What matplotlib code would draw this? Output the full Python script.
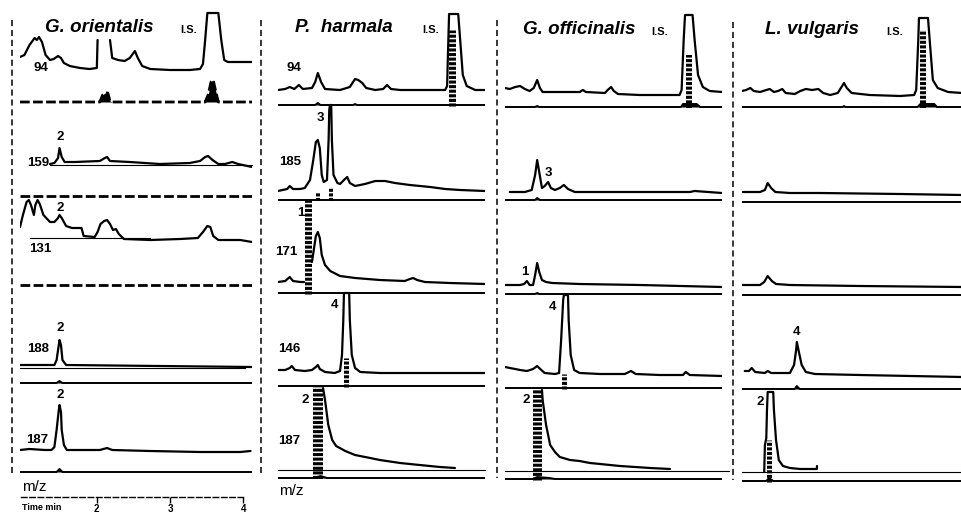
import matplotlib
matplotlib.use('Agg')
import matplotlib.pyplot as plt
from matplotlib.lines import Line2D
import numpy as np

plt.rcParams['font.family'] = ['Liberation Sans', 'DejaVu Sans']

# ------------------------------------------------------------------ data
SPECIES = ['G. orientalis', 'P.  harmala', 'G. officinalis', 'L. vulgaris']
MZ_COL1 = ['94', '159', '131', '188', '187']
MZ_COL2 = ['94', '185', '171', '146', '187']
TIME_TICKS = [2, 3, 4]
T_START, T_END = 0.95, 4.12

# traces: (retention time [min], relative intensity); None = off-scale gap
GO_94 = [(0.95,13),(1.01,15),(1.08,25),(1.15,32),(1.18,30),(1.21,33),(1.25,28),(1.30,15),(1.36,10),(1.41,11),
         (1.47,14),(1.51,12),(1.55,7),(1.63,4),(1.77,2),(1.90,1),(2.00,2),(2.01,30),None,(2.18,30),(2.21,12),
         (2.29,10),(2.38,9),(2.45,12),(2.52,19),(2.56,12),(2.62,4),(2.73,1),(3.00,0),(3.27,0),(3.41,1),(3.45,6),
         (3.48,30),(3.51,57),(3.66,57),(3.70,30),(3.74,10),(3.79,8),(4.12,8)]
GO_94_SIM = [(0.95,0),(2.04,0),(2.08,7),(2.11,9),(2.15,9),(2.18,1),(2.21,0),(3.48,0),(3.52,7),(3.56,20),
             (3.59,22),(3.62,12),(3.66,0),(4.12,0)]
GO_159 = [(1.36,1),(1.42,2),(1.47,7),(1.49,17),(1.52,8),(1.56,3),(1.70,3),(2.04,4),(2.11,7),(2.14,8),(2.18,4),
          (2.45,3),(2.86,1),(3.27,2),(3.41,4),(3.48,8),(3.52,9),(3.58,5),(3.66,1),(3.75,1),(3.85,3),(3.93,1),(4.12,-2)]
GO_159_SIM = [(0.95,0),(4.12,0)]
GO_131 = [(0.95,13),(0.99,25),(1.04,38),(1.07,40),(1.10,35),(1.14,25),(1.16,35),(1.19,40),(1.22,36),(1.27,25),
          (1.36,18),(1.42,18),(1.47,22),(1.49,25),(1.52,22),(1.58,14),(1.66,12),(1.79,12),(1.82,4),(1.97,3),
          (2.01,8),(2.05,16),(2.10,19),(2.14,20),(2.18,16),(2.22,10),(2.26,11),(2.30,6),(2.37,1),(2.73,0),
          (3.14,1),(3.38,2),(3.45,8),(3.51,14),(3.55,13),(3.59,4),(3.66,0),(3.96,0),(4.12,-2)]
GO_131_SIM = [(0.95,0),(4.12,0)]
GO_188 = [(0.95,0),(1.42,0),(1.45,5),(1.48,20),(1.49,25),(1.51,20),(1.53,5),(1.58,0),(4.12,-2)]
GO_188_SIM = [(0.95,0),(1.45,0),(1.49,2),(1.53,0),(4.12,0)]
GO_187 = [(0.95,0),(1.08,1),(1.29,0),(1.38,0),(1.42,3),(1.45,20),(1.48,40),(1.49,45),(1.51,38),(1.52,20),
          (1.55,5),(1.59,0),(1.77,0),(2.04,0),(2.14,2),(2.21,0),(2.73,-1),(3.41,-2),(3.96,-2),(4.10,-1)]
GO_187_SIM = [(0.95,0),(1.45,0),(1.49,3),(1.53,0),(4.12,0)]

PH_94 = [(0.95,0),(1.06,1),(1.13,3),(1.20,1),(1.27,5),(1.33,1),(1.47,2),(1.52,8),(1.56,17),(1.61,8),(1.67,1),
         (1.90,0),(2.05,3),(2.13,11),(2.18,10),(2.24,7),(2.30,2),(2.44,0),(2.56,1),(2.62,5),(2.68,1),(2.82,0),
         (3.51,0),(3.54,4),(3.55,30),(3.57,76),(3.71,76),(3.74,50),(3.78,15),(3.84,4),(3.97,0),(4.12,0)]
PH_94_SIM = [(0.95,0),(1.52,0),(1.56,2),(1.60,0),(2.10,0),(2.13,1),(2.16,0),(4.12,0)]
PH_185 = [(0.95,-1),(1.09,1),(1.13,4),(1.18,1),(1.29,1),(1.36,2),(1.44,10),(1.49,30),(1.53,48),(1.56,50),
          (1.59,42),(1.62,15),(1.65,8),(1.70,10),(1.725,50),(1.735,80),(1.745,85),(1.765,85),(1.775,50),
          (1.80,15),(1.86,7),(1.90,6),(1.96,10),(2.01,13),(2.05,7),(2.13,4),(2.28,6),(2.44,9),(2.59,9),(2.74,7),
          (2.97,5),(3.28,3),(3.51,1),(3.74,0),(4.12,-1)]
PH_185_SIM = [(0.95,0),(4.12,0)]
PH_171 = [(0.95,2),(1.06,3),(1.13,7),(1.18,3),(1.29,2),(1.35,2),None,(1.47,22),(1.53,48),(1.56,52),(1.59,46),
          (1.62,29),(1.67,19),(1.75,13),(1.90,8),(2.13,6),(2.51,4),(2.89,3),(2.97,5),(3.02,6),(3.08,4),(3.20,2),
          (3.58,1),(4.12,0)]
PH_171_SIM = [(0.95,0),(4.12,0)]
PH_146 = [(0.95,3),(1.06,3),(1.13,5),(1.16,7),(1.21,3),(1.36,2),(1.47,3),(1.53,6),(1.56,8),(1.59,4),(1.67,1),
          (1.82,0),(1.90,2),(1.93,18),(1.95,53),(1.96,80),(2.04,80),(2.05,53),(2.08,18),(2.13,5),(2.21,1),
          (2.51,0),(4.12,0)]
PH_146_SIM = [(0.95,0),(4.12,0)]
PH_187 = [(1.64,82),(1.67,70),(1.72,45),(1.78,30),(1.84,24),(1.98,19),(2.13,15),(2.36,12),(2.51,10),(2.82,7),
          (3.12,5),(3.43,3),(3.66,2)]
PH_187_SIM = [(0.95,0),(1.50,0),(1.60,2),(1.70,0),(4.12,0)]

GF_94 = [(0.95,7),(1.02,6),(1.10,8),(1.17,9),(1.24,6),(1.31,4),(1.37,7),(1.42,15),(1.46,7),(1.50,3),(1.75,3),
         (2.04,3),(2.09,5),(2.13,3),(2.41,2),(2.45,5),(2.50,8),(2.54,4),(2.60,1),(2.92,0),(3.50,0),(3.53,5),
         (3.56,55),(3.58,80),(3.69,80),(3.72,55),(3.77,20),(3.84,8),(3.94,4),(4.12,3)]
GF_94_SIM = [(0.95,0),(1.39,0),(1.42,1),(1.45,0),(3.52,0),(3.55,3),(3.75,3),(3.80,0),(4.12,0)]
GF_185 = [(1.02,0),(1.24,0),(1.34,2),(1.39,17),(1.42,32),(1.45,20),(1.49,4),(1.53,6),(1.58,10),(1.62,4),
          (1.68,2),(1.75,4),(1.81,7),(1.87,3),(1.97,0),(2.63,0),(3.65,0),(3.72,1),(4.12,-1)]
GF_185_SIM = [(0.95,0),(1.39,0),(1.42,2),(1.46,0),(4.12,0)]
GF_171 = [(0.95,1),(1.17,1),(1.23,2),(1.27,5),(1.31,1),(1.36,1),(1.39,11),(1.42,23),(1.45,14),(1.49,6),
          (1.55,4),(1.64,3),(2.04,2),(2.92,1),(4.12,-1)]
GF_171_SIM = [(0.95,0),(1.39,0),(1.42,1),(1.45,0),(4.12,0)]
GF_146 = [(0.95,8),(1.02,7),(1.10,6),(1.17,5),(1.27,4),(1.36,6),(1.42,9),(1.48,5),(1.53,2),(1.68,1),(1.74,2),
          (1.77,35),(1.80,75),(1.81,80),(1.87,80),(1.88,55),(1.91,20),(1.96,5),(2.04,2),(2.34,1),(2.70,1),
          (2.79,4),(2.86,1),(3.21,0),(3.55,0),(3.59,3),(3.65,0),(4.12,-1)]
GF_146_SIM = [(0.95,0),(4.12,0)]
GF_187 = [(1.49,81),(1.50,71),(1.55,46),(1.61,26),(1.68,19),(1.75,14),(1.90,11),(2.04,10),(2.19,8),(2.34,7),
          (2.63,5),(3.07,3),(3.36,2)]
GF_187_SIM = [(0.95,0),(1.36,0),(1.42,2),(1.60,1),(1.68,0),(4.12,0)]

LV_94 = [(0.95,4),(1.01,5),(1.07,7),(1.12,4),(1.21,3),(1.30,5),(1.35,6),(1.41,3),(1.47,4),(1.53,6),(1.58,2),
         (1.71,1),(1.79,4),(1.87,6),(1.96,5),(2.05,6),(2.12,2),(2.22,0),(2.33,2),(2.42,12),(2.46,7),(2.53,2),
         (2.79,0),(3.23,-1),(3.43,0),(3.46,5),(3.49,55),(3.50,77),(3.63,77),(3.66,50),(3.70,15),(3.77,7),
         (3.92,3),(4.12,2)]
LV_94_SIM = [(0.95,0),(2.40,0),(2.42,1),(2.44,0),(3.48,0),(3.52,3),(3.72,3),(3.76,0),(4.12,0)]
LV_185 = [(0.95,2),(1.21,2),(1.28,4),(1.32,11),(1.37,6),(1.43,2),(1.64,1),(2.07,1),(3.23,0),(4.12,-1)]
LV_185_SIM = [(0.95,0),(4.12,0)]
LV_171 = [(0.95,1),(1.21,1),(1.27,4),(1.32,10),(1.38,5),(1.44,2),(1.64,1),(2.65,0),(4.12,-1)]
LV_171_SIM = [(0.95,0),(4.12,0)]
LV_146 = [(0.99,5),(1.05,5),(1.09,8),(1.14,4),(1.28,3),(1.32,5),(1.37,3),(1.64,3),(1.70,11),(1.73,26),
          (1.74,34),(1.77,24),(1.81,11),(1.87,4),(2.00,2),(2.65,1),(4.12,-1)]
LV_146_SIM = [(0.95,0),(1.71,0),(1.74,3),(1.78,0),(4.12,0)]
LV_187 = [(1.27,0),(1.28,27),(1.30,34),(1.31,62),(1.32,80),(1.40,80),(1.41,62),(1.44,32),(1.48,12),(1.54,6),
          (1.64,4),(1.79,3),(2.03,3),(2.03,6)]
LV_187_SIM = [(0.95,0),(1.30,0),(1.34,3),(1.40,0),(4.12,0)]

# hatched (selected-ion) peaks: (row, retention time, height)
GO_HATCH = []
PH_HATCH = [(0, 3.61, 75), (1, 1.56, 8), (1, 1.76, 12), (2, 1.41, 93), (3, 1.99, 28), (4, 1.56, 92)]
GF_HATCH = [(0, 3.64, 52), (3, 1.81, 14), (4, 1.42, 90)]
LV_HATCH = [(0, 3.56, 77), (4, 1.34, 41)]

# ------------------------------------------------------------------ layout
W, H = 962, 512
COL_PX = [(20, 252), (278, 485), (505, 722), (742, 962)]
BASE_PX = [[70, 165, 240, 365, 450], [90, 190, 284, 373, 470],
           [95, 192, 286, 375, 471], [95, 194, 286, 376, 472]]
SIM_PX = [[102, 196, 285, 383, 472], [105, 200, 293, 386, 478],
          [107, 200, 294, 388, 479], [107, 202, 295, 389, 481]]
TRACES = [[GO_94, GO_159, GO_131, GO_188, GO_187],
          [PH_94, PH_185, PH_171, PH_146, PH_187],
          [GF_94, GF_185, GF_171, GF_146, GF_187],
          [LV_94, LV_185, LV_171, LV_146, LV_187]]
SIMS = [[GO_94_SIM, GO_159_SIM, GO_131_SIM, GO_188_SIM, GO_187_SIM],
        [PH_94_SIM, PH_185_SIM, PH_171_SIM, PH_146_SIM, PH_187_SIM],
        [GF_94_SIM, GF_185_SIM, GF_171_SIM, GF_146_SIM, GF_187_SIM],
        [LV_94_SIM, LV_185_SIM, LV_171_SIM, LV_146_SIM, LV_187_SIM]]
HATCHES = [GO_HATCH, PH_HATCH, GF_HATCH, LV_HATCH]
HATCH_WPX = {(1, 0): 7, (1, 1): 4, (1, 2): 7, (1, 3): 5, (1, 4): 10,
             (2, 0): 6, (2, 3): 5, (2, 4): 9, (3, 0): 6, (3, 4): 5}
DASHED_SIM = {(0, 0), (0, 1), (0, 2)}
# thin reference lines: (col, row, t0, t1, level)
THIN = [(0, 1, 1.36, 4.12, 0), (0, 2, 1.08, 2.73, 2), (0, 3, 0.95, 4.02, -3),
        (1, 4, 0.95, 4.12, 0), (2, 4, 0.95, 4.22, 0), (3, 4, 0.95, 4.12, 0)]
TITLE_POS = [(45, 27), (295, 27), (523, 30), (765, 30)]
IS_POS = [(189, 30), (431, 30), (660, 32), (895, 32)]
MZ1_POS = [(41, 68), (38, 163), (40, 249), (38, 349), (37, 440)]
MZ2_POS = [(294, 68), (290, 162), (286, 252), (289, 349), (289, 441)]
PEAK_LABELS = [('2', 60, 137), ('2', 60, 208), ('2', 60, 328), ('2', 60, 395),
               ('3', 320, 118), ('1', 301, 213), ('4', 335, 305), ('2', 305, 400),
               ('3', 548, 173), ('1', 525, 272), ('4', 553, 307), ('2', 526, 400),
               ('4', 797, 332), ('2', 760, 402)]
SEPARATORS = [(12, 20, 473), (261, 20, 475), (497, 20, 478), (733, 22, 480)]

fig = plt.figure(figsize=(W / 100, H / 100), dpi=100)
fig.patch.set_facecolor('white')


def fx(x):
    return x / W


def fy(y):
    return 1 - y / H


def split(pts, base):
    t = [p[0] if p is not None else np.nan for p in pts]
    y = [base + p[1] if p is not None else np.nan for p in pts]
    return np.array(t), np.array(y)


for c, (x0, x1) in enumerate(COL_PX):
    ax = fig.add_axes([fx(x0), 0, (x1 - x0) / W, 1])
    ax.set_xlim(T_START, T_END)
    ax.set_ylim(0, H)
    ax.axis('off')
    for r in range(5):
        base = H - BASE_PX[c][r]
        sbase = H - SIM_PX[c][r]
        t, y = split(TRACES[c][r], base)
        ax.plot(t, y, color='black', lw=1.6, solid_joinstyle='round', solid_capstyle='round')
        st, sy = split(SIMS[c][r], sbase)
        if (c, r) in DASHED_SIM:
            ax.plot(st, sy, color='black', lw=2.0, linestyle=(0, (3.5, 1.2)))
        else:
            ax.plot(st, sy, color='black', lw=1.4)
        ax.fill_between(st, sbase, sy, color='black', lw=0)
    for (cc, r, t0, t1, lev) in THIN:
        if cc == c:
            b = H - BASE_PX[c][r] + lev
            ax.plot([t0, t1], [b, b], color='black', lw=0.8, clip_on=False)
    for (r, t, h) in HATCHES[c]:
        sbase = H - SIM_PX[c][r]
        wpx = HATCH_WPX[(c, r)]
        lw = wpx * 0.72
        on, off = 2.2 / lw, 1.1 / lw
        ax.plot([t, t], [sbase - 1, sbase + h], color='black', lw=lw,
                linestyle=(0, (on, off)), dash_capstyle='butt')

# titles
for name, (x, y), (ix, iy) in zip(SPECIES, TITLE_POS, IS_POS):
    fig.text(fx(x), fy(y), name, fontsize=13.5, fontweight='bold', fontstyle='italic',
             ha='left', va='center')
    fig.text(fx(ix), fy(iy), 'I.S.', fontsize=8, fontweight='bold', ha='center', va='center')

for lab, (x, y) in zip(MZ_COL1, MZ1_POS):
    fig.text(fx(x), fy(y), lab, fontsize=9.5, fontweight='bold', ha='center', va='center')
for lab, (x, y) in zip(MZ_COL2, MZ2_POS):
    fig.text(fx(x), fy(y), lab, fontsize=9.5, fontweight='bold', ha='center', va='center')
for lab, x, y in PEAK_LABELS:
    fig.text(fx(x), fy(y), lab, fontsize=9.5, fontweight='bold', ha='center', va='center')

fig.text(fx(22), fy(487), 'm/z', fontsize=11, ha='left', va='center')
fig.text(fx(279), fy(491), 'm/z', fontsize=11, ha='left', va='center')

# separators
for (x, y0, y1) in SEPARATORS:
    fig.add_artist(Line2D([fx(x), fx(x)], [fy(y0), fy(y1)], transform=fig.transFigure,
                          color='black', lw=1.1, linestyle=(0, (4, 2.5))))

# time axis
tax = fig.add_axes([fx(COL_PX[0][0]), fy(497), (COL_PX[0][1] - COL_PX[0][0]) / W, 0.0001])
tax.set_xlim(T_START, T_END)
tax.set_ylim(0, 1)
tax.patch.set_visible(False)
for s in ['top', 'left', 'right']:
    tax.spines[s].set_visible(False)
tax.spines['bottom'].set_linestyle((0, (4, 2)))
tax.spines['bottom'].set_linewidth(1.0)
tax.spines['bottom'].set_bounds(0.97, 4.0)
tax.set_yticks([])
tax.set_xticks(TIME_TICKS)
tax.set_xticklabels([str(v) for v in TIME_TICKS], fontsize=7, fontweight='bold')
tax.tick_params(axis='x', direction='out', length=4, width=1, pad=1)
fig.text(fx(22), fy(508), 'Time min', fontsize=6.5, fontweight='bold', ha='left', va='center')

fig.savefig('out.png', dpi=100, facecolor='white')
